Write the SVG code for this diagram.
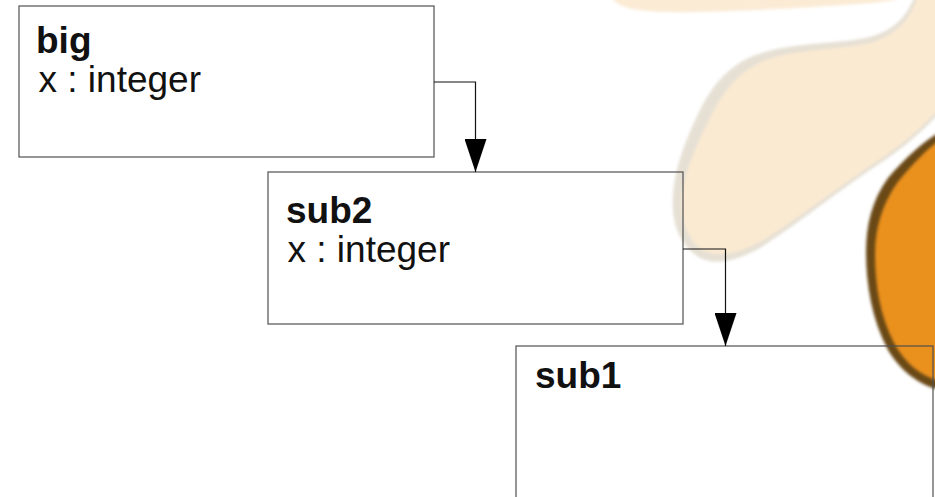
<svg xmlns="http://www.w3.org/2000/svg" width="935" height="497" viewBox="0 0 935 497">
  <defs>
    <style>
      .box { fill: none; stroke: #505050; stroke-width: 1.2; }
      .wire { fill: none; stroke: #111; stroke-width: 1.2; }
      .title { font-family: "Liberation Sans", Arial, sans-serif; font-size: 37px; font-weight: bold; fill: #111; }
      .attr { font-family: "Liberation Sans", Arial, sans-serif; font-size: 37px; fill: #111; }
    </style>
    <marker id="arrow" markerUnits="userSpaceOnUse" markerWidth="33" markerHeight="22" viewBox="0 0 33 22" refX="33" refY="11" orient="auto">
      <path d="M0,0 L33,11 L0,22 Z" fill="#000"/>
    </marker>
    <filter id="soft" x="-10%" y="-10%" width="120%" height="120%">
      <feGaussianBlur stdDeviation="1.5"/>
    </filter>
  </defs>

  <rect width="935" height="497" fill="#fff"/>

  <!-- decorative background shapes -->
  <g id="backdrop">
    <path d="M610,-5 C615,5 625,10 660,12 C720,13 800,8 860,4 C885,2 900,0 905,-5 Z" fill="#fbebd5" filter="url(#soft)"/>
    <path d="M915,-5 C908,15 895,30 870,37 C840,44 800,42 765,52 C735,60 715,80 700,110 C688,135 675,165 673,195 C671,225 680,245 700,258 C715,265 735,262 760,248 C800,222 840,190 870,170 C895,154 920,135 940,112 L940,-5 Z" fill="#e6e0d4" filter="url(#soft)"/>
    <path d="M918,-5 C912,17 898,34 873,42 C843,50 805,48 772,58 C745,66 726,86 712,114 C699,140 685,168 682,196 C680,222 688,240 704,251 C718,257 738,254 762,241 C800,217 840,186 870,166 C895,150 920,130 940,108 L940,-5 Z" fill="#fbead2" filter="url(#soft)"/>
    <path d="M940,132 C925,140 905,158 888,178 C872,200 866,225 866,252 C866,285 872,320 888,350 C900,370 918,385 940,390 Z" fill="#6b4a16" filter="url(#soft)"/>
    <path d="M940,140 C928,148 912,164 897,183 C882,205 875,228 875,254 C875,285 880,316 894,343 C905,363 920,376 940,381 Z" fill="#ea901e" filter="url(#soft)"/>
  </g>

  <g id="node-big">
    <rect class="box" x="19" y="6" width="415" height="151"/>
    <text class="title" x="36" y="53">big</text>
    <text class="attr" x="38.5" y="92">x : integer</text>
  </g>

  <g id="node-sub2">
    <rect class="box" x="268" y="172" width="415" height="152"/>
    <text class="title" x="286" y="223">sub2</text>
    <text class="attr" x="287.5" y="262">x : integer</text>
  </g>

  <g id="node-sub1">
    <rect class="box" x="516" y="346" width="417" height="160"/>
    <text class="title" x="535" y="388">sub1</text>
  </g>

  <g id="connectors">
    <path class="wire" d="M434,82 H475.5 V172" marker-end="url(#arrow)"/>
    <path class="wire" d="M683,249 H725.5 V346" marker-end="url(#arrow)"/>
  </g>
</svg>
